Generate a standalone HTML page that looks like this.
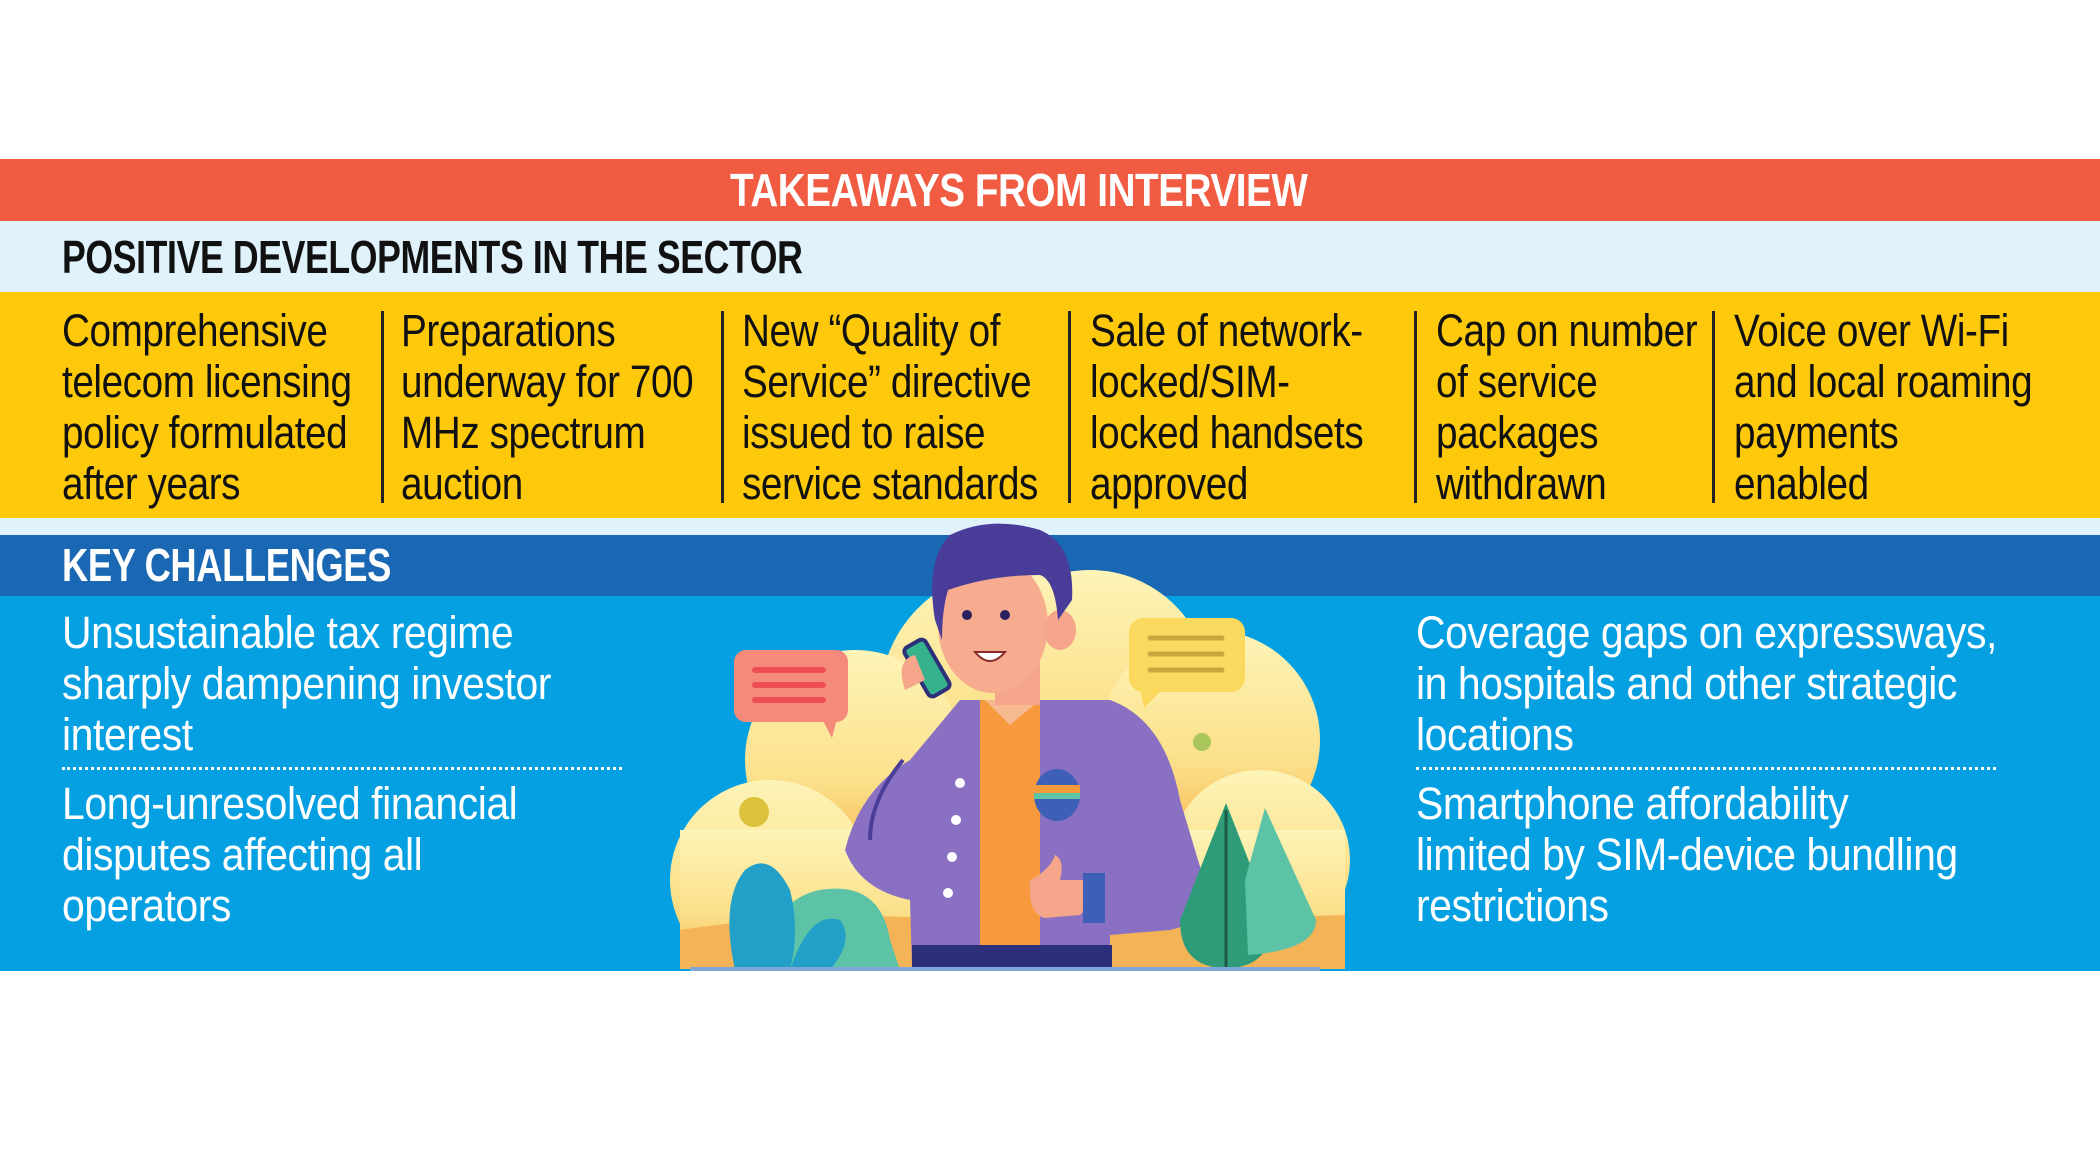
<!DOCTYPE html>
<html><head><meta charset="utf-8"><style>
html,body{margin:0;padding:0;}
body{width:2100px;height:1170px;position:relative;background:#fff;overflow:hidden;font-family:"Liberation Sans Narrow","Liberation Sans",sans-serif;}
.b{position:absolute;left:0;width:2100px;}
.t{position:absolute;font-size:45px;line-height:51px;white-space:nowrap;color:#111;letter-spacing:-0.5px;transform-origin:0 0;transform:scaleX(0.86);}
.w{color:#fff;}
.t.w{transform:scaleX(0.91);}
.h{position:absolute;font-weight:bold;font-size:46px;line-height:50px;white-space:nowrap;letter-spacing:-0.5px;transform-origin:0 0;}
.d{position:absolute;width:3px;background:#222;top:311px;height:192px;}
.dot{position:absolute;height:0;border-top:3px dotted #fff;}
</style></head><body>
<div class="b" style="top:159px;height:62px;background:#f05b42"></div>
<div class="b" style="top:221px;height:71px;background:#e0f2fc"></div>
<div class="b" style="top:292px;height:226px;background:#fdc90a"></div>
<div class="b" style="top:518px;height:17px;background:#e0f2fc"></div>
<div class="b" style="top:535px;height:61px;background:#1a68b3"></div>
<div class="b" style="top:596px;height:375px;background:#05a0e2"></div>

<div class="h w" style="left:730px;top:165px;transform:scaleX(0.84)">TAKEAWAYS FROM INTERVIEW</div>
<div class="h" style="left:62px;top:232px;color:#111;transform:scaleX(0.775)">POSITIVE DEVELOPMENTS IN THE SECTOR</div>
<div class="h w" style="left:62px;top:540px;transform:scaleX(0.79)">KEY CHALLENGES</div>

<div class="d" style="left:381px"></div>
<div class="d" style="left:721px"></div>
<div class="d" style="left:1068px"></div>
<div class="d" style="left:1414px"></div>
<div class="d" style="left:1712px"></div>

<div class="t" style="left:62px;top:305px">Comprehensive<br>telecom licensing<br>policy formulated<br>after years</div>
<div class="t" style="left:401px;top:305px">Preparations<br>underway for 700<br>MHz spectrum<br>auction</div>
<div class="t" style="left:742px;top:305px">New “Quality of<br>Service” directive<br>issued to raise<br>service standards</div>
<div class="t" style="left:1090px;top:305px">Sale of network-<br>locked/SIM-<br>locked handsets<br>approved</div>
<div class="t" style="left:1436px;top:305px">Cap on number<br>of service<br>packages<br>withdrawn</div>
<div class="t" style="left:1734px;top:305px">Voice over Wi-Fi<br>and local roaming<br>payments<br>enabled</div>

<div class="t w" style="left:62px;top:607px">Unsustainable tax regime<br>sharply dampening investor<br>interest</div>
<div class="dot" style="left:62px;width:560px;top:767px"></div>
<div class="t w" style="left:62px;top:778px">Long-unresolved financial<br>disputes affecting all<br>operators</div>

<div class="t w" style="left:1416px;top:607px">Coverage gaps on expressways,<br>in hospitals and other strategic<br>locations</div>
<div class="dot" style="left:1416px;width:580px;top:767px"></div>
<div class="t w" style="left:1416px;top:778px">Smartphone affordability<br>limited by SIM-device bundling<br>restrictions</div>

<svg style="position:absolute;left:0;top:0" width="2100" height="1170" viewBox="0 0 2100 1170">
<defs><linearGradient id="cg" x1="0" y1="0" x2="0" y2="1"><stop offset="0" stop-color="#fdf4b8"/><stop offset="0.6" stop-color="#fbe08a"/><stop offset="1" stop-color="#f6b54e"/></linearGradient>
<clipPath id="cp"><rect x="0" y="0" width="2100" height="969"/></clipPath></defs>
<g clip-path="url(#cp)">
<g fill="url(#cg)">
<circle cx="1010" cy="700" r="130"/>
<circle cx="1090" cy="690" r="120"/>
<circle cx="855" cy="760" r="110"/>
<circle cx="1210" cy="740" r="110"/>
<circle cx="770" cy="880" r="100"/>
<circle cx="1260" cy="860" r="90"/>
<rect x="680" y="830" width="665" height="140"/>
</g>
<path d="M680 930 Q850 905 1000 925 L1345 915 L1345 970 L680 970Z" fill="#f4b356"/>
<path d="M760 970 Q770 900 820 890 Q880 880 890 940 L900 970Z" fill="#5cc3a6"/>
<path d="M735 970 Q720 900 745 870 Q770 850 790 890 Q800 930 790 970Z" fill="#22a0c8"/>
<path d="M790 970 Q810 910 840 920 Q855 940 830 970Z" fill="#22a0c8"/>
</g>
<circle cx="754" cy="812" r="15" fill="#dcc23a"/>
<circle cx="1202" cy="742" r="9" fill="#a8c65a"/>
<rect x="734" y="650" width="114" height="72" rx="12" fill="#f58a7a"/>
<path d="M820 715 L832 738 L838 715Z" fill="#f58a7a"/>
<g stroke="#ee4f55" stroke-width="6" stroke-linecap="round"><line x1="755" y1="670" x2="823" y2="670"/><line x1="755" y1="685" x2="823" y2="685"/><line x1="755" y1="700" x2="823" y2="700"/></g>
<rect x="1129" y="618" width="116" height="74" rx="14" fill="#fbd95e"/>
<path d="M1140 690 L1144 708 L1162 690Z" fill="#fbd95e"/>
<g stroke="#c9a63c" stroke-width="5" stroke-linecap="round"><line x1="1150" y1="638" x2="1222" y2="638"/><line x1="1150" y1="654" x2="1222" y2="654"/><line x1="1150" y1="670" x2="1222" y2="670"/></g>
<path d="M845 850 Q860 790 910 760 L960 700 L1110 700 Q1165 720 1180 800 L1210 900 Q1210 920 1170 930 L1110 935 L1110 968 L912 968 L910 900 Q860 890 845 850Z" fill="#8a70c2"/>
<rect x="980" y="700" width="60" height="268" fill="#f79a3e"/>
<path d="M985 700 L1010 725 L1040 700Z" fill="#f7b98f"/>
<path d="M903 760 Q870 800 870 840" stroke="#4a3d9a" stroke-width="4" fill="none"/>
<g fill="#fff"><circle cx="960" cy="783" r="5"/><circle cx="956" cy="820" r="5"/><circle cx="952" cy="857" r="5"/><circle cx="948" cy="893" r="5"/></g>
<ellipse cx="1057" cy="795" rx="23" ry="26" fill="#3d5fb5"/>
<rect x="1034" y="785" width="46" height="8" fill="#f59a3a"/>
<rect x="1034" y="793" width="46" height="6" fill="#5cc3a6"/>
<rect x="912" y="945" width="200" height="23" fill="#2c2f7a"/>
<path d="M1030 880 Q1050 870 1055 855 Q1065 860 1060 880 L1085 880 Q1095 900 1080 915 L1045 918 Q1028 915 1030 880Z" fill="#f5a58a"/>
<rect x="1083" y="873" width="22" height="50" fill="#3d5fb5"/>
<rect x="995" y="660" width="45" height="45" fill="#f5a58a"/>
<ellipse cx="993" cy="625" rx="55" ry="68" fill="#f7ab8f"/>
<ellipse cx="1060" cy="630" rx="16" ry="20" fill="#f5a58a"/>
<path d="M935 620 Q925 560 950 535 Q990 515 1040 530 Q1075 545 1072 600 L1058 620 Q1055 580 1040 575 Q990 575 948 590 Q942 610 942 640Z" fill="#4a3d9a"/>
<circle cx="967" cy="615" r="5" fill="#2a2060"/><circle cx="1005" cy="615" r="5" fill="#2a2060"/>
<path d="M975 652 Q990 670 1005 652Z" fill="#fff" stroke="#8a2a2a" stroke-width="2"/>
<rect x="915" y="640" width="24" height="56" rx="5" fill="#36b38c" stroke="#2c2f7a" stroke-width="4" transform="rotate(-30 927 668)"/>
<path d="M905 690 Q895 660 915 655 L925 680Z" fill="#f5a58a"/>
<path d="M1226 803 L1180 920 Q1180 968 1226 968 Q1272 968 1272 920Z" fill="#2e9c78"/>
<line x1="1226" y1="810" x2="1226" y2="968" stroke="#1d5a45" stroke-width="3"/>
<path d="M1265 808 L1245 880 L1248 955 Q1316 950 1316 920Z" fill="#5cc3a6"/>
<line x1="690" y1="969" x2="1320" y2="969" stroke="#7fa8d8" stroke-width="4"/>
</svg>
</body></html>
